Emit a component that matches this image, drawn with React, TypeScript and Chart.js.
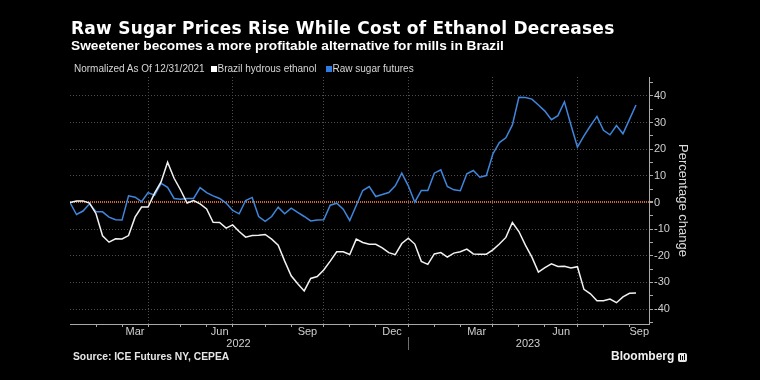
import React, { useEffect, useRef } from "react";
import { Chart, registerables } from "chart.js";

Chart.register(...registerables);

// Weekly observations, normalized to 12/31/2021 (percentage change)
const sugarFutures = [
  0, -4.5, -3.2, -0.5, -3.5, -3.5, -5.5, -6.5, -6.6, 2.5,
  2, 0.3, 3.7, 2.7, 7.2, 5.7, 1.5, 1.2, 1.5, 1.5,
  5.6, 3.7, 2.5, 1.5, -0.2, -3, -4.25, 0.75, 1.9, -5.25,
  -7.1, -5.25, -1.75, -4.25, -2.1, -3.75, -5.25, -6.9, -6.6, -6.5,
  -1, -0.25, -2.5, -6.75, -1.1, 4.5, 6, 2.25, 3, 3.75,
  6.25, 11, 6.25, 0.1, 4.5, 4.5, 11, 12.25, 6, 4.75,
  4.4, 10.75, 12, 9.5, 10.1, 18.2, 22.5, 24.3, 29.1, 39.5,
  39.4, 38.8, 36.6, 34.3, 31.1, 32.6, 37.8, 29.1, 20.8, 25,
  28.8, 32.3, 27.1, 25.4, 28.9, 25.8, 31.2, 36.6,
];

const hydrousEthanol = [
  0, 0.6, 0.6, -0.2, -4.2, -12.5, -14.9, -13.6, -13.7, -12.4,
  -5.5, -1.7, -1.7, 3.5, 7.7, 15.1, 9.1, 4.7, -0.2, 0.7,
  -0.5, -2.4, -7.4, -7.5, -9.6, -8.4, -10.9, -13, -12.4, -12.25,
  -12, -13.75, -16, -22, -27.5, -30.5, -33.2, -28.5, -27.8, -25.3,
  -22, -18.5, -18.5, -19.5, -13.75, -15, -15.7, -15.7, -17, -18.8,
  -19.6, -15.4, -13.4, -15.6, -22.1, -23.2, -19.3, -18.8, -20.5, -19,
  -18.5, -17.5, -19.3, -19.4, -19.4, -17.75, -15.6, -13.1, -7.5, -10.9,
  -16, -20.5, -26.1, -24.4, -23, -24, -23.9, -24.6, -24.1, -32.6,
  -34.25, -36.9, -36.9, -36.25, -37.6, -35.4, -34.1, -34,
];

// Axis structure (week index since 12/31/2021)
const monthEndWeeks = [4, 8, 12, 17, 21, 25, 30, 34, 39, 43, 47, 52, 56, 60, 65, 69, 73, 78, 82, 86];
const quarterEndWeeks = [12, 25, 39, 52, 65, 78];
const monthLabels = ["Mar", "Jun", "Sep", "Dec", "Mar", "Jun", "Sep"];
const monthLabelWeeks = [10, 23, 36.5, 49.5, 62.5, 75.5, 87.5];
const yearLabels = ["2022", "2023"];
const yearLabelWeeks = [25.9, 70.4];
const yearBoundaryWeek = 52;
const xMin = 0;
const xMax = 89;
const yMin = -45.6;
const yMax = 47.1;
const yTickValues = [-45, -40, -35, -30, -25, -20, -15, -10, -5, 0, 5, 10, 15, 20, 25, 30, 35, 40, 45];

const FONT = "'Liberation Sans', Arial, sans-serif";
const TITLE_FONT = "'DejaVu Sans', 'Liberation Sans', sans-serif";
const GRID = "#4d4d4d";
const AXIS = "#a8a8a8";
const ZERO = "#d0662c";
const TICK_TEXT = "#cfcfcf";
const WHITE_LINE = "#f2f2f2";
const BLUE_LINE = "#3f86dc";

const yearDivider = {
  id: "yearDivider",
  afterDraw(chart: any) {
    const { ctx } = chart;
    const xs = chart.scales.x;
    const x2 = chart.scales.x2;
    const px = Math.round(xs.getPixelForValue(yearBoundaryWeek)) + 0.5;
    ctx.save();
    ctx.strokeStyle = "#6e6e6e";
    ctx.lineWidth = 1;
    ctx.beginPath();
    ctx.moveTo(px, xs.bottom);
    ctx.lineTo(px, x2.bottom);
    ctx.stroke();
    ctx.restore();
  },
};

export default function App() {
  const canvasRef = useRef<HTMLCanvasElement | null>(null);

  useEffect(() => {
    const canvas = canvasRef.current;
    if (!canvas) return;
    const monthLabelMap = new Map<number, string>();
    monthLabelWeeks.forEach((w, i) => monthLabelMap.set(w, monthLabels[i]));
    const yearLabelMap = new Map<number, string>();
    yearLabelWeeks.forEach((w, i) => yearLabelMap.set(w, yearLabels[i]));

    const chart = new Chart(canvas, {
      type: "line",
      data: {
        datasets: [
          {
            label: "Brazil hydrous ethanol",
            data: hydrousEthanol.map((v, i) => ({ x: i, y: v })),
            borderColor: WHITE_LINE,
            borderWidth: 1.5,
            pointRadius: 0,
            tension: 0,
            order: 0,
          },
          {
            label: "Raw sugar futures",
            data: sugarFutures.map((v, i) => ({ x: i, y: v })),
            borderColor: BLUE_LINE,
            borderWidth: 1.5,
            pointRadius: 0,
            tension: 0,
            order: 1,
          },
        ],
      },
      options: {
        animation: false,
        responsive: false,
        devicePixelRatio: 1,
        events: [],
        layout: { padding: { left: 70, top: 77, right: 70, bottom: 30 } },
        plugins: { legend: { display: false }, tooltip: { enabled: false }, title: { display: false } },
        scales: {
          x: {
            type: "linear",
            position: "bottom",
            weight: 1,
            min: xMin,
            max: xMax,
            afterBuildTicks: (s: any) => {
              const vals = [...monthEndWeeks, ...monthLabelWeeks].sort((a, b) => a - b);
              s.ticks = vals.map((v) => ({ value: v }));
            },
            afterFit: (s: any) => {
              s.height = 13;
              s.paddingLeft = 0;
              s.paddingRight = 0;
            },
            ticks: {
              autoSkip: false,
              maxRotation: 0,
              minRotation: 0,
              padding: -1,
              color: TICK_TEXT,
              font: { family: FONT, size: 11, lineHeight: 1 },
              callback: (v: any) => monthLabelMap.get(Number(v)) ?? "",
            },
            grid: {
              drawOnChartArea: true,
              color: (c: any) => (c.tick && quarterEndWeeks.includes(c.tick.value) ? GRID : "rgba(0,0,0,0)"),
              tickColor: (c: any) => (c.tick && monthEndWeeks.includes(c.tick.value) ? AXIS : "rgba(0,0,0,0)"),
              tickLength: 3,
              lineWidth: 1,
            },
            border: { display: true, color: AXIS, width: 1, dash: [1, 2] },
          },
          x2: {
            type: "linear",
            position: "bottom",
            weight: 2,
            min: xMin,
            max: xMax,
            afterBuildTicks: (s: any) => {
              s.ticks = yearLabelWeeks.map((v) => ({ value: v }));
            },
            afterFit: (s: any) => {
              s.height = 13;
              s.paddingLeft = 0;
              s.paddingRight = 0;
            },
            ticks: {
              autoSkip: false,
              maxRotation: 0,
              minRotation: 0,
              padding: 1,
              color: TICK_TEXT,
              font: { family: FONT, size: 11, lineHeight: 1 },
              callback: (v: any) => yearLabelMap.get(Number(v)) ?? "",
            },
            grid: { display: false, drawTicks: false, drawOnChartArea: false },
            border: { display: false },
          },
          y: {
            type: "linear",
            position: "right",
            min: yMin,
            max: yMax,
            afterBuildTicks: (s: any) => {
              s.ticks = yTickValues.map((v) => ({ value: v }));
            },
            afterFit: (s: any) => {
              s.width = 41;
              s.paddingTop = 0;
              s.paddingBottom = 0;
            },
            ticks: {
              autoSkip: false,
              padding: 1,
              color: TICK_TEXT,
              font: { family: FONT, size: 11, lineHeight: 1 },
              callback: (v: any) => (Number(v) % 10 === 0 ? String(v) : ""),
            },
            grid: {
              color: (c: any) => {
                const v = c.tick ? c.tick.value : NaN;
                if (v === 0) return ZERO;
                return v % 10 === 0 ? GRID : "rgba(0,0,0,0)";
              },
              lineWidth: (c: any) => (c.tick && c.tick.value === 0 ? 2 : 1),
              tickColor: AXIS,
              tickLength: 4,
            },
            border: {
              display: true,
              color: AXIS,
              width: 1,
              dash: (c: any) => (c.tick && c.tick.value === 0 ? [1, 1] : [1, 2]),
            },
            title: {
              display: true,
              text: "Percentage change",
              color: "#dcdcdc",
              font: { family: FONT, size: 13, lineHeight: 1.2 },
              padding: 0,
            },
          },
        },
      },
      plugins: [yearDivider],
    } as any);

    return () => chart.destroy();
  }, []);

  const abs = (extra: React.CSSProperties): React.CSSProperties => ({
    position: "absolute",
    whiteSpace: "nowrap",
    fontFamily: FONT,
    lineHeight: 1,
    margin: 0,
    ...extra,
  });

  return (
    <div
      style={{
        position: "fixed",
        left: 0,
        top: 0,
        width: 760,
        height: 380,
        background: "#000",
        overflow: "hidden",
      }}
    >
      <canvas
        ref={canvasRef}
        width={760}
        height={380}
        style={{ position: "absolute", left: 0, top: 0, width: 760, height: 380 }}
      />
      <div
        style={abs({
          left: 71,
          top: 20.4,
          fontSize: 17,
          fontWeight: 700,
          color: "#ffffff",
          fontFamily: TITLE_FONT,
          letterSpacing: 0.25,
        })}
      >
        Raw Sugar Prices Rise While Cost of Ethanol Decreases
      </div>
      <div style={abs({ left: 71, top: 39.2, fontSize: 13.7, fontWeight: 700, color: "#ffffff" })}>
        Sweetener becomes a more profitable alternative for mills in Brazil
      </div>
      <div style={abs({ left: 74, top: 63.5, fontSize: 10, color: "#d6d6d6" })}>Normalized As Of 12/31/2021</div>
      <div style={abs({ left: 210.5, top: 66, width: 6, height: 6, background: "#ffffff" })} />
      <div style={abs({ left: 217.5, top: 63.5, fontSize: 10, color: "#d6d6d6" })}>Brazil hydrous ethanol</div>
      <div style={abs({ left: 325.5, top: 66, width: 6, height: 6, background: "#2f7be0" })} />
      <div style={abs({ left: 332.5, top: 63.5, fontSize: 10, color: "#d6d6d6" })}>Raw sugar futures</div>
      <div style={abs({ left: 73, top: 352.3, fontSize: 10.3, fontWeight: 700, color: "#e6e6e6" })}>
        Source: ICE Futures NY, CEPEA
      </div>
      <div style={abs({ left: 611, top: 349.8, fontSize: 12, fontWeight: 700, color: "#f0f0f0" })}>Bloomberg</div>
      <div
        style={abs({
          left: 678,
          top: 353,
          width: 9,
          height: 9,
          background: "#e8e8e8",
          borderRadius: 2,
        })}
      >
        <div style={abs({ left: 2, top: 2, width: 1, height: 5, background: "#000" })} />
        <div style={abs({ left: 4, top: 3, width: 1, height: 4, background: "#000" })} />
        <div style={abs({ left: 6, top: 1, width: 1, height: 6, background: "#000" })} />
      </div>
    </div>
  );
}
